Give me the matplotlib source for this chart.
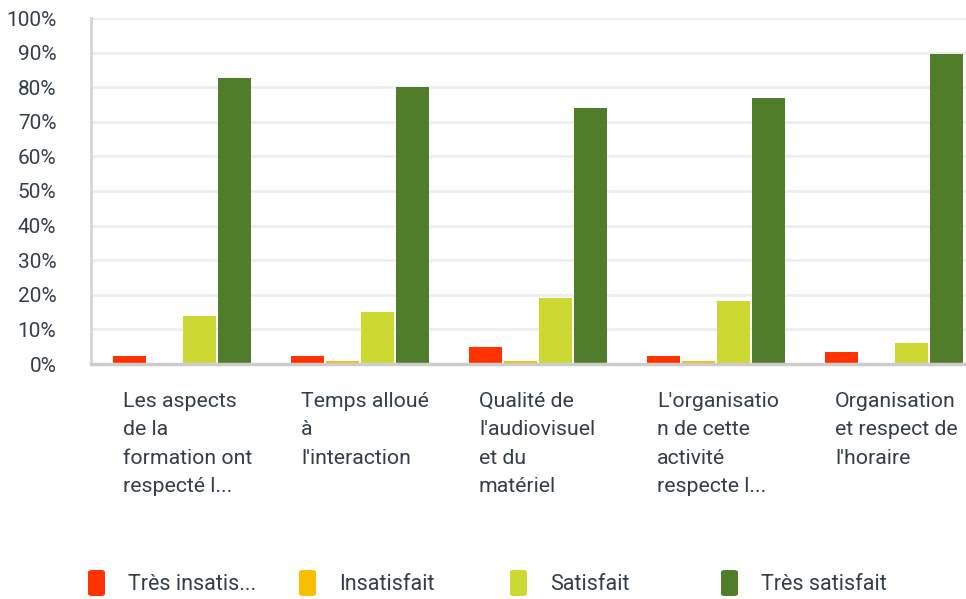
import numpy as np
import matplotlib.pyplot as plt
from matplotlib.patches import FancyBboxPatch
import matplotlib.transforms as mtransforms

plt.rcParams['font.family'] = ['Roboto', 'DejaVu Sans']

# données (en %)
categories = [
    "Les aspects\nde la\nformation ont\nrespecté l...",
    "Temps alloué\nà\nl'interaction",
    "Qualité de\nl'audiovisuel\net du\nmatériel",
    "L'organisatio\nn de cette\nactivité\nrespecte l...",
    "Organisation\net respect de\nl'horaire",
]
series_names = ["Très insatis...", "Insatisfait", "Satisfait", "Très satisfait"]
tres_insatisfait = [2.3, 2.3, 4.9, 2.3, 3.5]
insatisfait = [0.0, 0.9, 0.9, 0.9, 0.0]
satisfait = [13.9, 15.0, 19.1, 18.2, 6.1]
tres_satisfait = [82.7, 80.1, 74.0, 76.9, 89.6]
colors = ["#FF3300", "#F9BE00", "#CDD933", "#507D2A"]

values = [tres_insatisfait, insatisfait, satisfait, tres_satisfait]
text_color = "#333E48"

fig = plt.figure(figsize=(9.66, 5.99), dpi=100)
W, H = 966, 599
# l'axe dépasse à droite, comme dans l'original (coupé)
ax = fig.add_axes([91 / W, (H - 364) / H, 890 / W, 346 / H])

x = np.arange(len(categories))
pitch = 35 / 178
width = 33 / 178
shift = 2 / 178
for k, (vals, c) in enumerate(zip(values, colors)):
    ax.bar(x + (k - 1.5) * pitch + shift, vals, width=width, color=c, zorder=3)

ax.set_xlim(-0.5, len(categories) - 0.5)
ax.set_ylim(0, 100)
ax.set_yticks(np.arange(0, 101, 10))
ax.set_yticklabels([f"{v}%" for v in range(0, 101, 10)], fontsize=15, color=text_color)
ax.tick_params(axis='y', length=0, pad=25)
ax.set_xticks([])
ax.grid(axis='y', color="#EEEEEE", linewidth=2, zorder=0)
for s in ['top', 'right']:
    ax.spines[s].set_visible(False)
ax.spines['left'].set_color("#D5D5D5")
ax.spines['left'].set_linewidth(2)
ax.spines['bottom'].set_color("#CCCCCC")
ax.spines['bottom'].set_linewidth(2.5)
ax.spines['bottom'].set_zorder(4)

# étiquettes de catégories, alignées à gauche sous chaque groupe
trans = mtransforms.blended_transform_factory(ax.transData, fig.transFigure)
for i, lab in enumerate(categories):
    ax.text(i - 0.5 + 32 / 178, 1 - 392 / H, lab, transform=trans, ha='left', va='top',
            fontsize=15.3, color=text_color, linespacing=1.62, clip_on=False)

# légende en bas
for k, (name, c) in enumerate(zip(series_names, colors)):
    x0 = (88 + k * 211) / W
    patch = FancyBboxPatch((x0, 1 - 596 / H), 17 / W, 26 / H,
                           boxstyle="round,pad=0,rounding_size=0.004",
                           transform=fig.transFigure, facecolor=c, edgecolor='none')
    fig.patches.append(patch)
    fig.text(x0 + 40 / W, 1 - 584 / H, name, ha='left', va='center',
             fontsize=15.5, color=text_color)

fig.savefig("out.png", dpi=100)
